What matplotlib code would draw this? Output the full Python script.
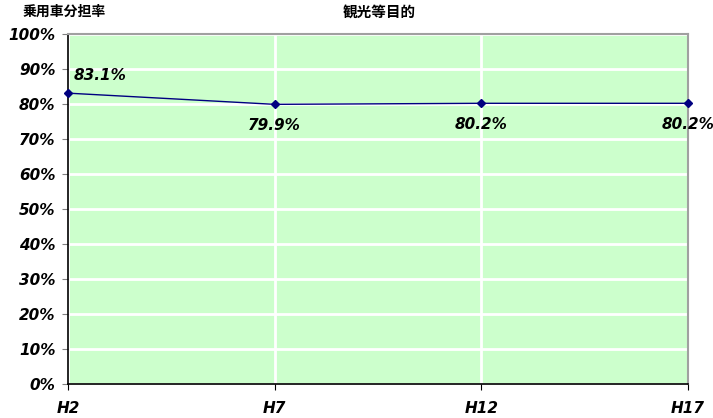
import matplotlib
matplotlib.use("Agg")
import matplotlib.pyplot as plt

categories = ["H2", "H7", "H12", "H17"]
values = [83.1, 79.9, 80.2, 80.2]
yticks = [0, 10, 20, 30, 40, 50, 60, 70, 80, 90, 100]
title = "観光等目的"
ylabel = "乗用車分担率"

jp = ["Noto Sans CJK JP", "DejaVu Sans"]
num_font = dict(family="DejaVu Sans", style="italic", weight="bold")

fig = plt.figure(figsize=(7.13, 4.18), dpi=100)
ax = fig.add_axes([68 / 713, 34 / 418, 620 / 713, 350 / 418])
ax.set_facecolor("#CCFFCC")

x = list(range(len(categories)))
ax.plot(x, values, color="#000080", lw=1.0, marker="D", ms=4.5,
        mec="#000080", mfc="#000080", zorder=3, clip_on=False)

ax.set_xlim(0, len(categories) - 1)
ax.set_ylim(0, 100)
ax.set_yticks(yticks)
ax.set_yticklabels([f"{v}%" for v in yticks], fontsize=11, **num_font)
ax.set_xticks(x)
ax.set_xticklabels(categories, fontsize=11, **num_font)
ax.tick_params(axis="y", length=4, color="#808080", pad=5)
ax.tick_params(axis="x", length=4, color="black", pad=8)

ax.grid(True, color="white", lw=2)
ax.set_axisbelow(True)

for side in ("left", "bottom"):
    ax.spines[side].set_color("black")
    ax.spines[side].set_linewidth(1.2)
for side in ("top", "right"):
    ax.spines[side].set_color("#A0A0A0")
    ax.spines[side].set_linewidth(1.5)

# value labels: first above the point, the rest below
offsets = [(4, 7, "left", "bottom"), (0, -10, "center", "top"),
           (0, -10, "center", "top"), (0, -10, "center", "top")]
for xi, v, (dx, dy, ha, va) in zip(x, values, offsets):
    ax.annotate(f"{v:.1f}%", (xi, v), xytext=(dx, dy), textcoords="offset points",
                ha=ha, va=va, fontsize=11, **num_font)

fig.text(379 / 713, 1 - 12 / 418, title, ha="center", va="center",
         fontsize=10.5, fontweight="bold", family=jp)
fig.text(64 / 713, 1 - 12 / 418, ylabel, ha="center", va="center",
         fontsize=10, fontweight="bold", family=jp)

fig.savefig("out.png", dpi=100)
